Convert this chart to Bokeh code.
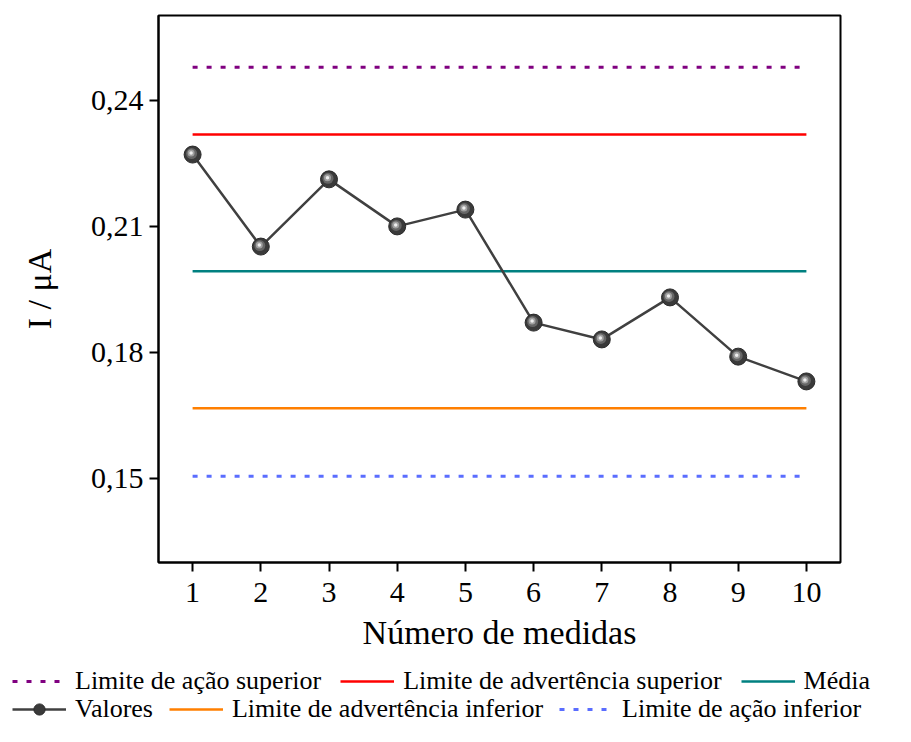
import numpy as np
from bokeh.plotting import figure
from bokeh.layouts import column
from bokeh.models import FixedTicker, CustomJSTickFormatter, Legend, LegendItem, Range1d
from bokeh.embed import file_html
from bokeh.resources import INLINE

# ---- data ----
medidas = [1, 2, 3, 4, 5, 6, 7, 8, 9, 10]
valores = [0.2271, 0.2052, 0.2212, 0.2100, 0.2140, 0.1871, 0.1831, 0.1931, 0.1790, 0.1731]
lim_acao_sup = 0.2479
lim_adv_sup = 0.2319
media = 0.1993
lim_adv_inf = 0.1667
lim_acao_inf = 0.1505
y_ticks = [0.15, 0.18, 0.21, 0.24]
x_ticks = medidas

FONT = "Liberation Serif"
W = 895
H_MAIN = 666
H_LEG = 60
BL, BR, BT, BB = 158, 55, 15, 104
X0, X1 = 0.5, 10.5
Y0, Y1 = 0.1300, 0.2602

p = figure(width=W, height=H_MAIN, output_backend="svg", toolbar_location=None,
           x_range=Range1d(X0, X1), y_range=Range1d(Y0, Y1),
           min_border_left=BL, min_border_right=BR, min_border_top=BT, min_border_bottom=BB)
p.background_fill_color = "white"
p.border_fill_color = "white"
p.outline_line_color = "black"
p.outline_line_width = 2
p.xgrid.visible = False
p.ygrid.visible = False
p.frame_align = False

# legend-only figure (holds proxy renderers, data out of view)
lf = figure(width=W, height=H_LEG, output_backend="svg", toolbar_location=None,
            x_range=Range1d(100, 101), y_range=Range1d(100, 101),
            x_axis_location=None, y_axis_location=None, min_border=0)
lf.outline_line_color = None
lf.xgrid.visible = False
lf.ygrid.visible = False
lf.background_fill_color = "white"
lf.border_fill_color = "white"
lf.frame_align = False

xs = [medidas[0], medidas[-1]]
styles = {
    "acs": dict(y=lim_acao_sup, line_color="#800080", line_width=3, line_dash="5 9", line_cap="butt"),
    "ads": dict(y=lim_adv_sup, line_color="#ff0000", line_width=2.5),
    "med": dict(y=media, line_color="#008080", line_width=2.5),
    "adi": dict(y=lim_adv_inf, line_color="#ff7f00", line_width=2.5),
    "aci": dict(y=lim_acao_inf, line_color="#5a6dff", line_width=3, line_dash="5 9", line_cap="butt"),
}
leg_r = {}
for k, st in styles.items():
    st = dict(st)
    yv = st.pop("y")
    p.line(xs, [yv] * 2, **st)
    leg_r[k] = lf.line(xs, [yv] * 2, **st)

val_line = dict(line_color="#404040", line_width=2.5)
val_pts = dict(size=17, fill_color="#3a3a3a", line_color="#2a2a2a", line_width=1)
p.line(medidas, valores, **val_line)
p.scatter(medidas, valores, **val_pts)
leg_r["val_l"] = lf.line(medidas, valores, **val_line)
leg_r["val_p"] = lf.scatter(medidas, valores, **val_pts)

# sphere highlight layers (offset in pixels converted to data units)
fw, fh = W - BL - BR, H_MAIN - BT - BB
dx = (X1 - X0) / fw
dy = (Y1 - Y0) / fh
mx = np.array(medidas, dtype=float)
my = np.array(valores, dtype=float)
p.scatter(mx - 1.0 * dx, my + 1.0 * dy, size=11, fill_color="#666666", line_color=None)
p.scatter(mx - 1.5 * dx, my + 1.5 * dy, size=7, fill_color="#a0a0a0", line_color=None)
p.scatter(mx - 1.5 * dx, my + 1.5 * dy, size=3.5, fill_color="#eeeeee", line_color=None)

# axes
for ax in (p.xaxis[0], p.yaxis[0]):
    ax.axis_line_width = 2
    ax.axis_line_color = "black"
    ax.major_tick_line_width = 2
    ax.major_tick_line_color = "black"
    ax.major_tick_out = 9
    ax.major_tick_in = 0
    ax.minor_tick_line_color = None
    ax.major_label_text_font = FONT
    ax.major_label_text_font_size = "30px"
    ax.major_label_text_color = "black"
    ax.axis_label_text_font = FONT
    ax.axis_label_text_font_size = "34px"
    ax.axis_label_text_font_style = "normal"
    ax.axis_label_text_color = "black"

p.xaxis.ticker = FixedTicker(ticks=x_ticks)
p.yaxis.ticker = FixedTicker(ticks=y_ticks)
p.yaxis.formatter = CustomJSTickFormatter(code="return tick.toFixed(2).replace('.', ',');")
p.xaxis.axis_label = "Número de medidas"
p.yaxis.axis_label = "I / μA"
p.xaxis.major_label_standoff = 11
p.yaxis.major_label_standoff = 6
p.xaxis.axis_label_standoff = 9
p.yaxis.axis_label_standoff = 30


def make_legend(items, loc, spacing):
    return Legend(items=items, location=loc, orientation="horizontal",
                  label_text_font=FONT, label_text_font_size="26px", label_text_color="black",
                  glyph_width=54, glyph_height=28, label_height=28, label_standoff=9,
                  spacing=spacing, padding=0, margin=0,
                  border_line_alpha=0, background_fill_alpha=0)


leg1 = make_legend([
    LegendItem(label="Limite de ação superior", renderers=[leg_r["acs"]]),
    LegendItem(label="Limite de advertência superior", renderers=[leg_r["ads"]]),
    LegendItem(label="Média", renderers=[leg_r["med"]]),
], (12, 30), 19)
leg2 = make_legend([
    LegendItem(label="Valores", renderers=[leg_r["val_l"], leg_r["val_p"]]),
    LegendItem(label="Limite de advertência inferior", renderers=[leg_r["adi"]]),
    LegendItem(label="Limite de ação inferior", renderers=[leg_r["aci"]]),
], (12, 2), 16)
lf.add_layout(leg1, "center")
lf.add_layout(leg2, "center")

layout = column(p, lf, spacing=0)
open("out.html", "w").write(file_html(layout, INLINE))
